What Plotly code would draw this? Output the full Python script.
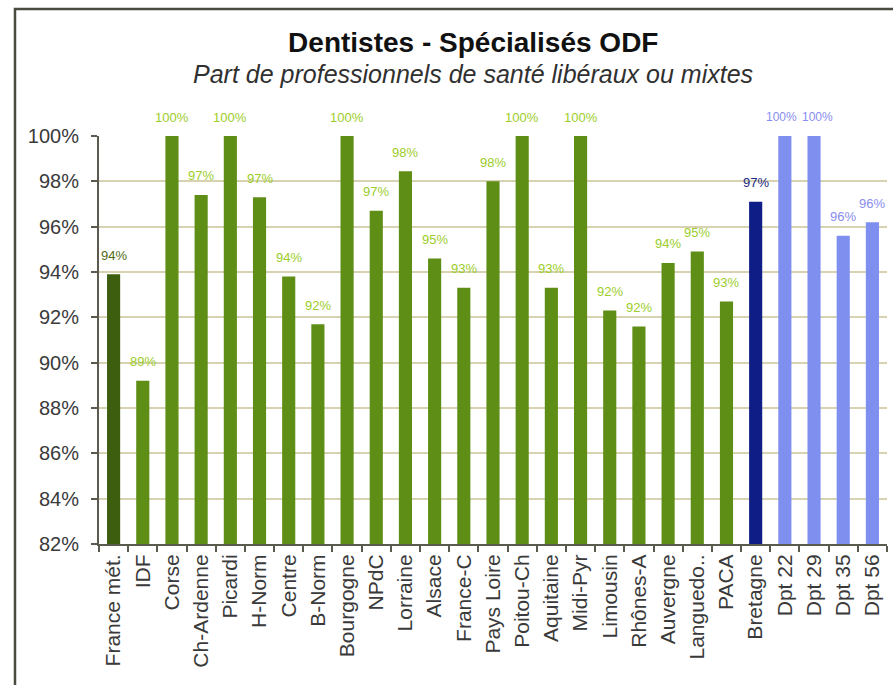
import plotly.graph_objects as go

# Share of dental specialists (ODF) practising in liberal or mixed mode
categories = ["France mét.", "IDF", "Corse", "Ch-Ardenne", "Picardi", "H-Norm", "Centre",
              "B-Norm", "Bourgogne", "NPdC", "Lorraine", "Alsace", "France-C", "Pays Loire",
              "Poitou-Ch", "Aquitaine", "Midi-Pyr", "Limousin", "Rhônes-A", "Auvergne",
              "Languedo..", "PACA", "Bretagne", "Dpt 22", "Dpt 29", "Dpt 35", "Dpt 56"]
shares = [0.939, 0.892, 1.000, 0.974, 1.000, 0.973, 0.938,
          0.917, 1.000, 0.967, 0.9845, 0.946, 0.933, 0.980,
          1.000, 0.933, 1.000, 0.923, 0.916, 0.944,
          0.949, 0.927, 0.971, 1.000, 1.000, 0.956, 0.962]
groups = ["nation"] + ["region"] * 21 + ["bretagne"] + ["dpt"] * 4

y_ticks = [0.82, 0.84, 0.86, 0.88, 0.90, 0.92, 0.94, 0.96, 0.98, 1.00]

bar_colors = {"nation": "#3e5e0f", "region": "#5f8e17", "bretagne": "#0f1e86", "dpt": "#7f8ff0"}
label_colors = {"nation": "#4f6a14", "region": "#9ccd2a", "bretagne": "#1c2a80", "dpt": "#8a8cf0"}

FONT = "Liberation Sans, Arial, sans-serif"

fig = go.Figure(go.Bar(
    x=categories,
    y=shares,
    marker=dict(color=[bar_colors[g] for g in groups], line=dict(width=0)),
    width=0.45,
    hoverinfo="x+y",
))

# value labels above each bar; two adjacent 100% labels are nudged apart
nudge = {"Dpt 22": -3, "Dpt 29": 3}
for cat, val, grp in zip(categories, shares, groups):
    fig.add_annotation(
        x=cat, y=val, text=f"{val:.0%}", showarrow=False,
        yanchor="middle", yshift=19, xanchor="center", xshift=nudge.get(cat, 0),
        font=dict(family=FONT, size=12 if cat in nudge else 13, color=label_colors[grp]),
    )

# subtitle
fig.add_annotation(
    xref="paper", yref="paper", x=0.4746, y=1.1515,
    text="<i>Part de professionnels de santé libéraux ou mixtes</i>",
    showarrow=False, xanchor="center", yanchor="middle",
    font=dict(family=FONT, size=25, color="#303030"),
)

# chart frame
fig.add_shape(type="rect", xref="paper", yref="paper",
              x0=-0.1066, x1=1.2, y0=-0.5, y1=1.311,
              line=dict(color="#4a4a40", width=2.5), fillcolor="rgba(0,0,0,0)", layer="below")

fig.update_layout(
    width=893, height=685,
    margin=dict(l=99, r=6, t=136, b=141),
    paper_bgcolor="white", plot_bgcolor="white",
    showlegend=False,
    title=dict(text="<b>Dentistes - Spécialisés ODF</b>", x=0.53, xanchor="center",
               y=1 - 42 / 685, yanchor="middle", yref="container",
               font=dict(family=FONT, size=28, color="#111111")),
    xaxis=dict(
        type="category", showgrid=False,
        showline=True, linecolor="#5a5a4e", linewidth=2,
        ticks="outside", tickson="boundaries", ticklen=6, tickcolor="#5a5a4e", tickwidth=2,
        tickangle=-90, tickfont=dict(family=FONT, size=21, color="#3a3a3a"),
        range=[-0.5, len(categories) - 0.5],
    ),
    yaxis=dict(
        range=[0.82, 1.00], tickvals=y_ticks, tickformat=".0%",
        showgrid=True, gridcolor="#d6d2b2", gridwidth=1.5,
        showline=True, linecolor="#5a5a4e", linewidth=2,
        ticks="outside", ticklen=6, tickcolor="#5a5a4e", tickwidth=2,
        ticklabelstandoff=8,
        tickfont=dict(family=FONT, size=20, color="#3a3a3a"),
        zeroline=False,
    ),
)

fig.write_html("out.html")
